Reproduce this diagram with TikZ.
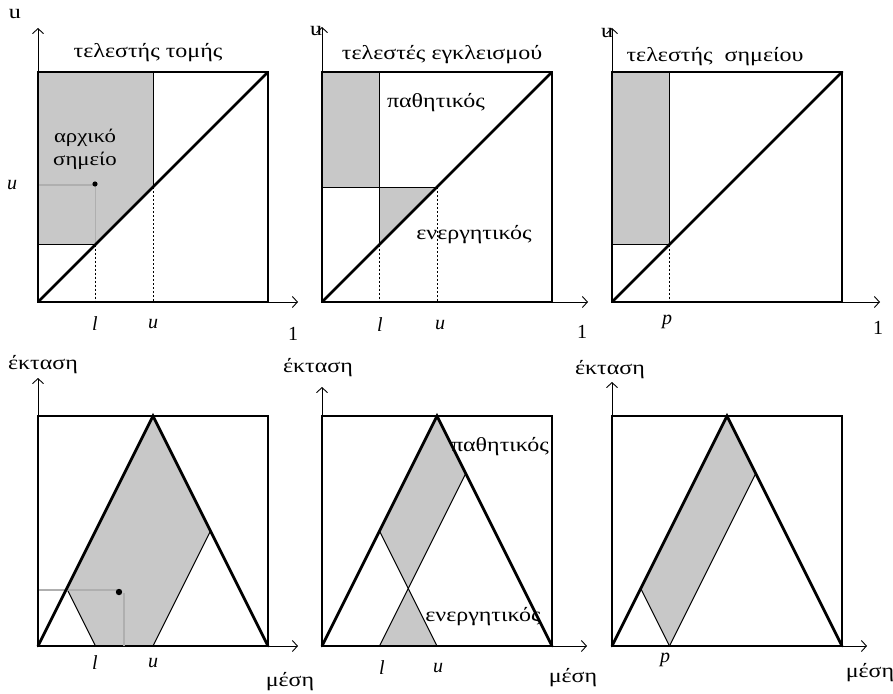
\documentclass[tikz,border=0pt]{standalone}
\usepackage{fontspec}
\setmainfont{Liberation Serif}
\newfontfamily\grfont[FakeStretch=1.2]{Liberation Serif}
\usetikzlibrary{arrows.meta}
\definecolor{shadegray}{RGB}{200,200,200}
\definecolor{linkgray}{RGB}{175,175,175}
\begin{document}
\begin{tikzpicture}[x=1pt,y=-1pt,
  sq/.style={draw,line width=1.3pt},
  thinl/.style={line width=1pt},
  diagl/.style={line width=2.8pt,line cap=round},
  dashl/.style={line width=0.9pt,dash pattern=on 2pt off 2pt},
  ax/.style={line width=0.9pt,-{Straight Barb[length=5pt,width=11pt,line width=0.9pt]}},
  shd/.style={fill=shadegray},
  glink/.style={draw=linkgray,line width=1.4pt},
  gr/.style={font=\grfont\fontsize{20}{22}\selectfont,inner sep=0pt},
  grs/.style={font=\grfont\fontsize{19}{21}\selectfont,inner sep=0pt},
  ml/.style={font=\fontsize{20}{22}\selectfont\itshape,inner sep=0pt},
  one/.style={font=\fontsize{20}{22}\selectfont,inner sep=0pt}]
\useasboundingbox (0,0) rectangle (893,693);
% ---------------- top left
\begin{scope}[shift={(38,0)}]
\fill[shd] (0,72) -- (115,72) -- (115,187) -- (57.5,244.5) -- (0,244.5) -- cycle;
\draw[sq] (0,72) rectangle (230,302);
\draw[thinl] (115,72) -- (115,187);
\draw[thinl] (0,244.5) -- (57.5,244.5);
\draw[dashl] (57.5,244.5) -- (57.5,302);
\draw[dashl] (115,187) -- (115,302);
\draw[glink] (0,185) -- (56,185);
\draw[glink] (57.5,185) -- (57.5,244.5);
\fill (57,184) circle (2.6);
\draw[diagl] (0,302) -- (230,72);
\draw[ax] (0,302) -- (260,302);
\draw[ax] (0,302) -- (0,28);
\end{scope}
% ---------------- top middle
\begin{scope}[shift={(322,0)}]
\fill[shd] (0,72) rectangle (57.5,187);
\fill[shd] (57.5,187) -- (115,187) -- (57.5,244.5) -- cycle;
\draw[sq] (0,72) rectangle (230,302);
\draw[thinl] (57.5,72) -- (57.5,244.5);
\draw[thinl] (0,187) -- (115,187);
\draw[dashl] (57.5,244.5) -- (57.5,302);
\draw[dashl] (115,187) -- (115,302);
\draw[diagl] (0,302) -- (230,72);
\draw[ax] (0,302) -- (266,302);
\draw[ax] (0,302) -- (0,27);
\end{scope}
% ---------------- top right
\begin{scope}[shift={(612,0)}]
\fill[shd] (0,72) rectangle (57.5,244.5);
\draw[sq] (0,72) rectangle (230,302);
\draw[thinl] (57.5,72) -- (57.5,244.5);
\draw[thinl] (0,244.5) -- (57.5,244.5);
\draw[dashl] (57.5,244.5) -- (57.5,302);
\draw[diagl] (0,302) -- (230,72);
\draw[ax] (0,302) -- (268,302);
\draw[ax] (0,302) -- (0,28);
\end{scope}
% ---------------- bottom left
\begin{scope}[shift={(38,0)}]
\fill[shd] (115,416) -- (172.5,531) -- (115,646) -- (57.5,646) -- (28.75,588.5) -- cycle;
\draw[sq] (0,416) rectangle (230,646);
\draw[thinl] (57.5,646) -- (28.75,588.5);
\draw[thinl] (115,646) -- (172.5,531);
\draw[glink] (0,590) -- (79,590);
\draw[glink] (86,593) -- (86,646);
\fill (81,592) circle (3.2);
\draw[diagl] (0,646) -- (115,416) -- (230,646);
\draw[ax] (0,646) -- (260,646);
\draw[ax] (0,646) -- (0,378);
\end{scope}
% ---------------- bottom middle
\begin{scope}[shift={(322,0)}]
\fill[shd] (115,416) -- (143.75,473.5) -- (86.25,588.5) -- (57.5,531) -- cycle;
\fill[shd] (86.25,588.5) -- (57.5,646) -- (115,646) -- cycle;
\draw[sq] (0,416) rectangle (230,646);
\draw[thinl] (57.5,646) -- (143.75,473.5);
\draw[thinl] (115,646) -- (57.5,531);
\draw[diagl] (0,646) -- (115,416) -- (230,646);
\draw[ax] (0,646) -- (265,646);
\draw[ax] (0,646) -- (0,387);
\end{scope}
% ---------------- bottom right
\begin{scope}[shift={(612,0)}]
\fill[shd] (28.75,588.5) -- (115,416) -- (143.75,473.5) -- (57.5,646) -- cycle;
\draw[sq] (0,416) rectangle (230,646);
\draw[thinl] (57.5,646) -- (28.75,588.5);
\draw[thinl] (57.5,646) -- (143.75,473.5);
\draw[diagl] (0,646) -- (115,416) -- (230,646);
\draw[ax] (0,646) -- (255,646);
\draw[ax] (0,646) -- (0,382);
\end{scope}
% ---------------- labels top left
\node[gr] (tlu) at (15,14) {u};
\node[gr] (tltitle) at (148,53) {τελεστής τομής};
\node[grs,anchor=base] (tla) at (85,142) {αρχικό};
\node[grs,anchor=base] (tlb) at (85,165) {σημείο};
\node[ml] (tlul) at (12,185) {u};
\node[ml] (tll) at (95,324) {l};
\node[ml] (tlux) at (153,324) {u};
\node[one] (tl1) at (293,334) {1};
% ---------------- labels top middle
\node[gr] (tmu) at (316,31) {u};
\node[gr] (tmtitle) at (442,55) {τελεστές εγκλεισμού};
\node[gr] (tmp) at (436,103) {παθητικός};
\node[gr] (tme) at (474,235) {ενεργητικός};
\node[ml] (tml) at (380,325) {l};
\node[ml] (tmux) at (440,325) {u};
\node[one] (tm1) at (582,332) {1};
% ---------------- labels top right
\node[gr] (tru) at (607,33) {u};
\node[gr] (trtitle) at (715,57) {τελεστής\ \ σημείου};
\node[ml] (trp) at (667,322) {p};
\node[one] (tr1) at (878,328) {1};
% ---------------- labels bottom
\node[gr] (bly) at (43,365) {έκταση};
\node[ml] (bll) at (95,663) {l};
\node[ml] (blu) at (153,663) {u};
\node[gr] (blx) at (290,682) {μέση};
\node[gr] (bmy) at (318,368) {έκταση};
\node[gr] (bmp) at (500,447) {παθητικός};
\node[gr] (bme) at (483,617) {ενεργητικός};
\node[ml] (bml) at (382,668) {l};
\node[ml] (bmu) at (438,668) {u};
\node[gr] (bmx) at (573,678) {μέση};
\node[gr] (bry) at (610,370) {έκταση};
\node[ml] (brp) at (665,660) {p};
\node[gr] (brx) at (870,673) {μέση};
\end{tikzpicture}
\end{document}
